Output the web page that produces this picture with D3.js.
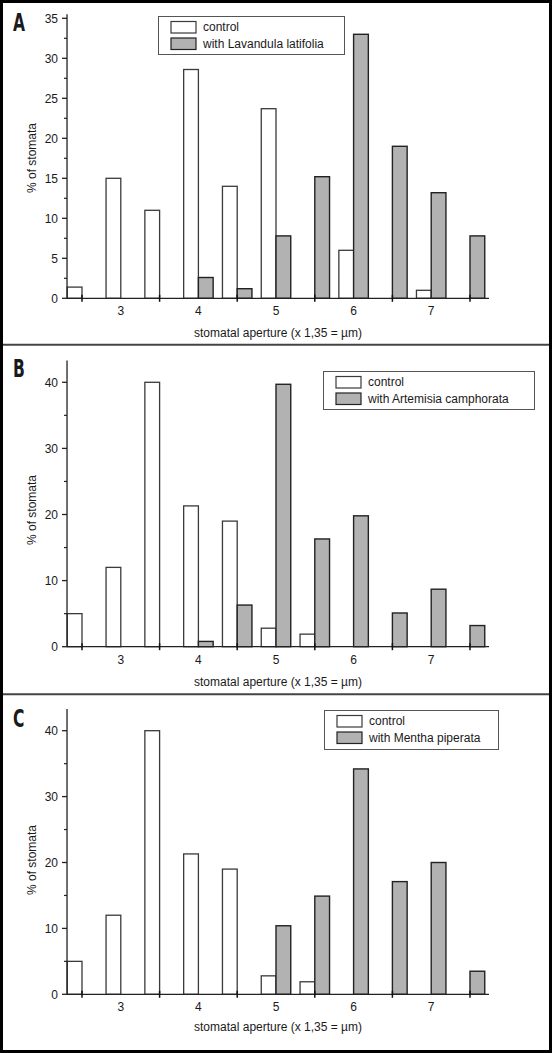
<!DOCTYPE html>
<html>
<head>
<meta charset="utf-8">
<script src="https://cdn.jsdelivr.net/npm/d3@7"></script>
<style>
html,body{margin:0;padding:0;background:#fff;}
svg{display:block;}
text{font-family:"Liberation Sans",Arial,sans-serif;fill:#1a1a1a;}
</style>
</head>
<body>
<svg id="chart" width="552" height="1053"></svg>
<script>
// ---- data ----
const bins = [2.5, 3, 3.5, 4, 4.5, 5, 5.5, 6, 6.5, 7, 7.5];
const xTickLabels = [3, 4, 5, 6, 7];
const xTickMarks = [2.5, 3.5, 4.5, 5.5, 6.5, 7.5];

const controlA = [1.4, 15, 11, 28.6, 14, 23.7, 0, 6, 0, 1, 0];
const lavandula = [0, 0, 0, 2.6, 1.2, 7.8, 15.2, 33, 19, 13.2, 7.8];

const controlB = [5, 12, 40, 21.3, 19, 2.8, 1.9, 0, 0, 0, 0];
const artemisia = [0, 0, 0, 0.8, 6.3, 39.7, 16.3, 19.8, 5.1, 8.7, 3.2];

const controlC = [5, 12, 40, 21.3, 19, 2.8, 1.9, 0, 0, 0, 0];
const mentha = [0, 0, 0, 0, 0, 10.4, 14.9, 34.2, 17.1, 20, 3.5];

const yTicksA = [0, 5, 10, 15, 20, 25, 30, 35];
const yMinorA = [2.5, 7.5, 12.5, 17.5, 22.5, 27.5, 32.5];
const yTicksBC = [0, 10, 20, 30, 40];
const yMinorBC = [5, 15, 25, 35];

const panels = [
  {letter: "A", control: controlA, treat: lavandula, treatName: "with Lavandula latifolia",
   yTicks: yTicksA, yMinor: yMinorA, yMax: 35.5, yRef: 35,
   top: 0, y0: 298.3, yRefPx: 18.3,
   legend: {x: 158, y: 16, w: 186, h: 38}, letterY: 31, yLabelY: 158, xLabelY: 337},
  {letter: "B", control: controlB, treat: artemisia, treatName: "with Artemisia camphorata",
   yTicks: yTicksBC, yMinor: yMinorBC, yMax: 43.3, yRef: 40,
   top: 345, y0: 646.7, yRefPx: 382.3,
   legend: {x: 323, y: 371, w: 211, h: 38}, letterY: 377, yLabelY: 510, xLabelY: 686},
  {letter: "C", control: controlC, treat: mentha, treatName: "with Mentha piperata",
   yTicks: yTicksBC, yMinor: yMinorBC, yMax: 43.3, yRef: 40,
   top: 694, y0: 994.3, yRefPx: 730.7,
   legend: {x: 324, y: 710, w: 174, h: 39}, letterY: 727, yLabelY: 860, xLabelY: 1031}
];

const svg = d3.select("#chart");
svg.append("rect").attr("x", 0).attr("y", 0).attr("width", 552).attr("height", 1053).attr("fill", "#fff");

const x = d3.scaleLinear().domain([2.5, 7.5]).range([82, 470]);
const xLo = 2.307, xHi = 7.745;
const barW = 0.19;

panels.forEach(p => {
  const y = d3.scaleLinear().domain([0, p.yRef]).range([p.y0, p.yRefPx]);
  const g = svg.append("g");

  // panel letter
  g.append("text")
    .attr("transform", `translate(13,${p.letterY}) scale(0.72,1)`)
    .style("font-family", "'DejaVu Sans Condensed','DejaVu Sans',sans-serif")
    .style("font-weight", "bold")
    .style("font-size", "24px")
    .attr("fill", "#111")
    .text(p.letter);

  // bars: control
  g.selectAll(".c").data(bins.map((b, i) => ({b, v: p.control[i]})).filter(d => d.v > 0))
    .enter().append("rect")
    .attr("x", d => x(d.b - barW))
    .attr("y", d => y(d.v))
    .attr("width", d => x(d.b) - x(d.b - barW))
    .attr("height", d => y(0) - y(d.v))
    .attr("fill", "#fff").attr("stroke", "#3a3a3a").attr("stroke-width", 1.3);

  // bars: treatment
  g.selectAll(".t").data(bins.map((b, i) => ({b, v: p.treat[i]})).filter(d => d.v > 0))
    .enter().append("rect")
    .attr("x", d => x(d.b))
    .attr("y", d => y(d.v))
    .attr("width", d => x(d.b + barW) - x(d.b))
    .attr("height", d => y(0) - y(d.v))
    .attr("fill", "#b2b2b2").attr("stroke", "#222").attr("stroke-width", 1.4);

  // x axis line
  g.append("line").attr("x1", x(xLo)).attr("x2", x(xHi)).attr("y1", y(0)).attr("y2", y(0))
    .attr("stroke", "#222").attr("stroke-width", 1.3);
  // x tick marks at half positions
  g.selectAll(".xt").data(xTickMarks).enter().append("line")
    .attr("x1", d => x(d)).attr("x2", d => x(d))
    .attr("y1", y(0) - 3.5).attr("y2", y(0) + 3.5)
    .attr("stroke", "#111").attr("stroke-width", 1.5);
  // x tick labels
  g.selectAll(".xl").data(xTickLabels).enter().append("text")
    .attr("x", d => x(d)).attr("y", y(0) + 17)
    .attr("text-anchor", "middle").style("font-size", "12px")
    .text(d => d);
  // x label
  g.append("text").attr("x", (x(xLo) + x(xHi)) / 2 + 0).attr("y", p.xLabelY)
    .attr("text-anchor", "middle").style("font-size", "12px")
    .text("stomatal aperture (x 1,35 = µm)");

  // y axis line
  const ax = x(xLo);
  g.append("line").attr("x1", ax).attr("x2", ax).attr("y1", y(0)).attr("y2", y(p.yMax))
    .attr("stroke", "#222").attr("stroke-width", 1.3);
  g.selectAll(".yt").data(p.yTicks).enter().append("line")
    .attr("x1", ax - 5).attr("x2", ax).attr("y1", d => y(d)).attr("y2", d => y(d))
    .attr("stroke", "#222").attr("stroke-width", 1.3);
  g.selectAll(".ym").data(p.yMinor).enter().append("line")
    .attr("x1", ax - 3).attr("x2", ax).attr("y1", d => y(d)).attr("y2", d => y(d))
    .attr("stroke", "#222").attr("stroke-width", 1.2);
  g.selectAll(".yl").data(p.yTicks).enter().append("text")
    .attr("x", ax - 9).attr("y", d => y(d) + 4.3)
    .attr("text-anchor", "end").style("font-size", "12px")
    .text(d => d);
  // y label
  g.append("text")
    .attr("transform", `translate(36,${p.yLabelY}) rotate(-90)`)
    .attr("text-anchor", "middle").style("font-size", "12px")
    .text("% of stomata");

  // legend
  const L = p.legend;
  g.append("rect").attr("x", L.x + 0.5).attr("y", L.y + 0.5).attr("width", L.w).attr("height", L.h)
    .attr("fill", "#fff").attr("stroke", "#555").attr("stroke-width", 1);
  const items = [{name: "control", fill: "#fff", stroke: "#3a3a3a"},
                 {name: p.treatName, fill: "#b2b2b2", stroke: "#222"}];
  items.forEach((it, i) => {
    const cy = L.y + 11 + i * 16.5;
    g.append("rect").attr("x", L.x + 13).attr("y", cy - 5.5).attr("width", 25).attr("height", 11.5)
      .attr("fill", it.fill).attr("stroke", it.stroke).attr("stroke-width", 1.2);
    g.append("text").attr("x", L.x + 45).attr("y", cy + 4.3).style("font-size", "12px").text(it.name);
  });
});

// dividers and frame
svg.append("line").attr("x1", 2).attr("x2", 550).attr("y1", 344.8).attr("y2", 344.8)
  .attr("stroke", "#444").attr("stroke-width", 2);
svg.append("line").attr("x1", 2).attr("x2", 550).attr("y1", 694.2).attr("y2", 694.2)
  .attr("stroke", "#444").attr("stroke-width", 2);
svg.append("rect").attr("x", 1.5).attr("y", 1.5).attr("width", 549).attr("height", 1050)
  .attr("fill", "none").attr("stroke", "#000").attr("stroke-width", 3);
</script>
</body>
</html>
